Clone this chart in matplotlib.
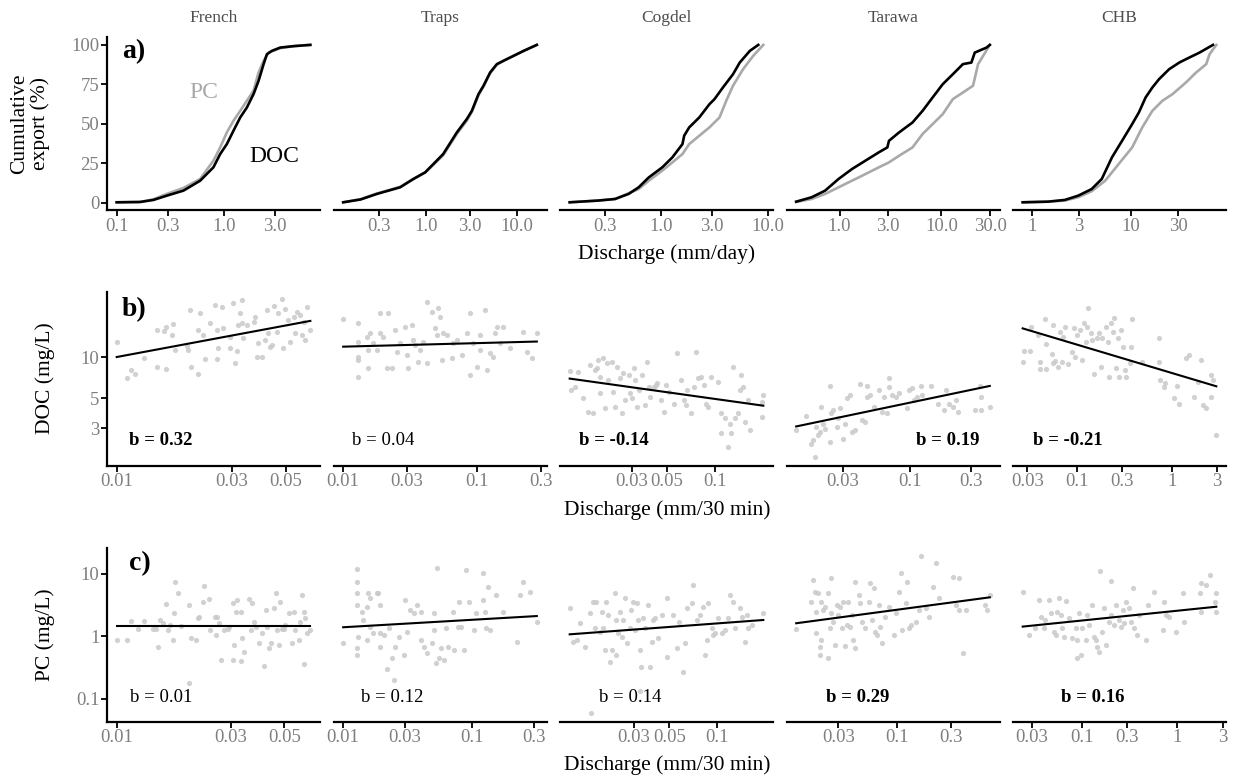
import numpy as np
import matplotlib
matplotlib.use("Agg")
import matplotlib.pyplot as plt
from matplotlib.ticker import FixedLocator, FixedFormatter, NullLocator

plt.rcParams['font.family'] = ['Liberation Serif', 'DejaVu Serif']

# ---------------- data ----------------
sites = ["French", "Traps", "Cogdel", "Tarawa", "CHB"]

# a) cumulative export curves: (log10 discharge mm/day, cumulative %)
french_cum_doc = [(-1.003, 0.2), (-0.785, 0.4), (-0.660, 1.7), (-0.536, 4.4), (-0.380, 7.6), (-0.224, 13.9),
                  (-0.100, 22.4), (-0.037, 30.8), (0.025, 37.1), (0.087, 45.6), (0.150, 54.0), (0.212, 60.3),
                  (0.274, 68.8), (0.321, 77.2), (0.368, 87.8), (0.399, 94.1), (0.445, 96.2), (0.523, 98.3),
                  (0.648, 99.2), (0.804, 100.0)]
french_cum_pc = [(-1.003, 0.2), (-0.785, 0.4), (-0.660, 2.1), (-0.536, 5.5), (-0.380, 9.3), (-0.224, 15.0),
                 (-0.100, 26.6), (-0.037, 35.0), (0.025, 44.5), (0.087, 51.9), (0.150, 58.2), (0.212, 64.6),
                 (0.274, 70.9), (0.321, 82.5), (0.368, 89.9), (0.414, 95.1), (0.523, 97.9), (0.648, 99.2),
                 (0.804, 100.0)]
traps_cum_doc = [(-0.912, 0.2), (-0.720, 2.0), (-0.542, 5.5), (-0.286, 9.7), (-0.139, 15.0), (-0.011, 19.2),
                 (0.080, 24.5), (0.187, 30.8), (0.337, 44.5), (0.447, 53.0), (0.502, 58.2), (0.575, 68.8),
                 (0.630, 74.1), (0.703, 82.5), (0.777, 87.8), (0.870, 90.5), (0.960, 93.0), (1.070, 96.2),
                 (1.216, 100.0)]
traps_cum_pc = [(-0.912, 0.2), (-0.720, 2.2), (-0.542, 5.8), (-0.286, 10.0), (-0.139, 15.2), (-0.011, 19.0),
                (0.080, 24.0), (0.187, 30.0), (0.337, 43.5), (0.447, 52.0), (0.502, 57.5), (0.575, 68.0),
                (0.630, 73.5), (0.703, 82.0), (0.777, 87.5), (0.870, 90.5), (0.960, 93.2), (1.070, 96.0),
                (1.216, 100.0)]
cogdel_cum_doc = [(-0.852, 0.2), (-0.585, 1.3), (-0.428, 2.3), (-0.302, 5.5), (-0.208, 9.7), (-0.113, 16.0),
                  (0.013, 22.4), (0.107, 28.7), (0.201, 37.1), (0.217, 42.4), (0.264, 47.7), (0.358, 54.0),
                  (0.453, 62.4), (0.500, 65.6), (0.579, 73.0), (0.673, 81.4), (0.736, 88.8), (0.830, 96.2),
                  (0.909, 100.0)]
cogdel_cum_pc = [(-0.852, 0.2), (-0.585, 1.3), (-0.428, 2.3), (-0.302, 5.9), (-0.208, 8.6), (-0.113, 13.9),
                 (0.013, 20.3), (0.107, 25.5), (0.201, 30.8), (0.264, 37.1), (0.358, 42.4), (0.453, 47.7),
                 (0.547, 54.0), (0.610, 64.6), (0.673, 74.1), (0.767, 84.6), (0.861, 93.0), (0.956, 100.0)]
tarawa_cum_doc = [(-0.426, 0.6), (-0.274, 3.4), (-0.142, 7.6), (-0.010, 15.0), (0.122, 21.3), (0.254, 26.6),
                  (0.386, 31.9), (0.469, 35.0), (0.485, 39.2), (0.584, 44.5), (0.716, 50.8), (0.815, 58.2),
                  (0.914, 66.7), (1.013, 75.1), (1.112, 81.4), (1.211, 87.8), (1.294, 88.8), (1.327, 95.1),
                  (1.443, 98.3), (1.475, 100.0)]
tarawa_cum_pc = [(-0.426, 0.4), (-0.274, 2.3), (-0.142, 5.5), (-0.010, 9.7), (0.122, 13.9), (0.254, 18.1),
                 (0.386, 22.4), (0.485, 25.5), (0.584, 29.7), (0.716, 35.0), (0.815, 43.5), (0.914, 49.8),
                 (1.013, 56.1), (1.112, 65.6), (1.211, 69.8), (1.310, 74.1), (1.360, 87.8), (1.475, 100.0)]
chb_cum_doc = [(-0.092, 0.2), (0.163, 0.6), (0.334, 1.7), (0.469, 4.4), (0.605, 8.6), (0.707, 15.0),
               (0.810, 28.7), (0.912, 39.2), (1.014, 49.8), (1.082, 57.2), (1.150, 66.7), (1.218, 73.0),
               (1.286, 78.3), (1.388, 84.6), (1.490, 88.8), (1.592, 92.0), (1.694, 95.1), (1.830, 100.0)]
chb_cum_pc = [(-0.092, 0.2), (0.163, 0.6), (0.334, 1.3), (0.469, 3.4), (0.605, 7.2), (0.742, 13.9),
              (0.878, 24.5), (1.014, 35.0), (1.116, 47.7), (1.218, 58.2), (1.320, 64.6), (1.422, 68.8),
              (1.558, 76.2), (1.660, 82.5), (1.762, 87.8), (1.796, 94.1), (1.864, 100.0)]

# b) DOC samples: (log10 discharge mm/30 min, log10 DOC mg/L)
french_doc = [(-2.000, 1.108), (-1.942, 0.904), (-1.956, 0.843), (-1.925, 0.875), (-1.887, 0.995), (-1.835, 1.199),
              (-1.835, 0.924), (-1.804, 1.194), (-1.794, 0.909), (-1.797, 1.223), (-1.766, 1.240), (-1.773, 1.162),
              (-1.759, 1.051), (-1.704, 1.051), (-1.697, 1.346), (-1.711, 1.081), (-1.694, 0.924), (-1.663, 1.199),
              (-1.656, 1.321), (-1.665, 0.873), (-1.642, 1.162), (-1.635, 0.983), (-1.614, 1.248), (-1.593, 1.382),
              (-1.586, 1.199), (-1.586, 0.983), (-1.580, 1.064), (-1.566, 1.370), (-1.559, 1.211), (-1.531, 1.064),
              (-1.531, 1.150), (-1.517, 1.395), (-1.510, 0.953), (-1.503, 1.047), (-1.497, 1.235), (-1.490, 1.321),
              (-1.483, 1.419), (-1.483, 1.248), (-1.476, 1.137), (-1.462, 1.235), (-1.434, 1.260), (-1.427, 1.297),
              (-1.420, 1.002), (-1.414, 1.100), (-1.400, 1.002), (-1.386, 1.125), (-1.379, 1.346), (-1.372, 1.174),
              (-1.365, 1.076), (-1.358, 1.088), (-1.349, 1.375), (-1.337, 1.186), (-1.331, 1.321), (-1.317, 1.424),
              (-1.310, 1.064), (-1.303, 1.350), (-1.293, 1.272), (-1.282, 1.113), (-1.268, 1.297), (-1.261, 1.174),
              (-1.254, 1.333), (-1.241, 1.309), (-1.234, 1.162), (-1.227, 1.260), (-1.220, 1.125), (-1.213, 1.370),
              (-1.199, 1.199)]
traps_doc = [(-2.000, 1.277), (-1.886, 1.248), (-1.886, 1.113), (-1.886, 1.002), (-1.886, 0.978), (-1.886, 0.855),
             (-1.823, 1.150), (-1.811, 1.051), (-1.811, 0.917), (-1.799, 1.174), (-1.774, 1.100), (-1.749, 1.051),
             (-1.724, 1.321), (-1.724, 1.174), (-1.699, 1.150), (-1.674, 0.917), (-1.662, 1.321), (-1.637, 0.917),
             (-1.612, 1.199), (-1.599, 1.039), (-1.575, 1.100), (-1.537, 1.223), (-1.525, 1.015), (-1.513, 0.917),
             (-1.487, 1.235), (-1.475, 1.125), (-1.463, 1.088), (-1.438, 0.966), (-1.425, 1.051), (-1.401, 1.113),
             (-1.375, 0.953), (-1.375, 1.407), (-1.338, 1.333), (-1.313, 1.211), (-1.301, 1.162), (-1.289, 1.358),
             (-1.276, 1.297), (-1.263, 0.978), (-1.251, 1.174), (-1.226, 1.162), (-1.189, 0.990), (-1.177, 1.100),
             (-1.151, 1.125), (-1.114, 1.015), (-1.077, 1.174), (-1.052, 1.321), (-1.052, 0.868), (-1.028, 1.100),
             (-1.002, 0.929), (-0.978, 1.162), (-0.978, 1.051), (-0.940, 1.346), (-0.928, 0.904), (-0.903, 1.027),
             (-0.878, 1.002), (-0.866, 1.174), (-0.854, 1.223), (-0.828, 1.100), (-0.804, 1.223), (-0.754, 1.064),
             (-0.654, 1.186), (-0.629, 1.039), (-0.592, 0.990), (-0.554, 1.179)]
cogdel_doc = [(-1.913, 0.900), (-1.903, 0.757), (-1.882, 0.782), (-1.861, 0.892), (-1.829, 0.696), (-1.797, 0.598),
              (-1.786, 0.941), (-1.765, 0.586), (-1.754, 0.904), (-1.744, 0.917), (-1.733, 0.978), (-1.722, 0.855),
              (-1.722, 0.733), (-1.701, 0.990), (-1.691, 0.623), (-1.680, 0.953), (-1.670, 0.831), (-1.648, 0.966),
              (-1.638, 0.745), (-1.627, 0.635), (-1.617, 0.929), (-1.595, 0.843), (-1.585, 0.586), (-1.574, 0.880),
              (-1.563, 0.684), (-1.542, 0.868), (-1.531, 0.733), (-1.521, 0.696), (-1.510, 0.917), (-1.499, 0.831),
              (-1.489, 0.635), (-1.478, 0.757), (-1.457, 0.868), (-1.436, 0.647), (-1.426, 0.966), (-1.415, 0.782),
              (-1.404, 0.708), (-1.383, 0.782), (-1.372, 0.794), (-1.362, 0.806), (-1.340, 0.684), (-1.319, 0.598),
              (-1.308, 0.794), (-1.287, 0.745), (-1.255, 0.659), (-1.234, 1.027), (-1.213, 0.831), (-1.192, 0.684),
              (-1.181, 0.647), (-1.171, 0.757), (-1.149, 0.586), (-1.128, 0.782), (-1.117, 1.039), (-1.107, 0.843),
              (-1.085, 0.855), (-1.064, 0.794), (-1.054, 0.659), (-1.043, 0.635), (-1.022, 0.855), (-0.980, 0.819),
              (-0.958, 0.586), (-0.958, 0.439), (-0.937, 0.549), (-0.916, 0.341), (-0.905, 0.512), (-0.895, 0.439),
              (-0.884, 0.924), (-0.873, 0.549), (-0.852, 0.586), (-0.842, 0.757), (-0.831, 0.868), (-0.821, 0.782),
              (-0.810, 0.525), (-0.789, 0.684), (-0.778, 0.463), (-0.703, 0.561), (-0.703, 0.672), (-0.693, 0.721)]
tarawa_doc = [(-1.885, 0.463), (-1.806, 0.566), (-1.767, 0.365), (-1.754, 0.390), (-1.741, 0.267), (-1.728, 0.488),
              (-1.714, 0.426), (-1.702, 0.451), (-1.688, 0.635), (-1.675, 0.512), (-1.662, 0.475), (-1.623, 0.787),
              (-1.623, 0.377), (-1.610, 0.586), (-1.596, 0.610), (-1.570, 0.488), (-1.557, 0.549), (-1.544, 0.623),
              (-1.518, 0.402), (-1.505, 0.512), (-1.492, 0.696), (-1.466, 0.721), (-1.452, 0.451), (-1.426, 0.463),
              (-1.387, 0.801), (-1.373, 0.537), (-1.347, 0.525), (-1.334, 0.787), (-1.334, 0.708), (-1.308, 0.721),
              (-1.281, 0.635), (-1.242, 0.757), (-1.216, 0.598), (-1.202, 0.708), (-1.176, 0.591), (-1.163, 0.843),
              (-1.163, 0.782), (-1.137, 0.721), (-1.111, 0.708), (-1.084, 0.733), (-1.019, 0.623), (-1.006, 0.757),
              (-0.980, 0.770), (-0.966, 0.684), (-0.940, 0.708), (-0.914, 0.787), (-0.901, 0.721), (-0.836, 0.787),
              (-0.783, 0.659), (-0.730, 0.615), (-0.717, 0.757), (-0.691, 0.659), (-0.665, 0.635), (-0.638, 0.684),
              (-0.625, 0.598), (-0.494, 0.610), (-0.454, 0.787), (-0.442, 0.610), (-0.442, 0.708), (-0.376, 0.635)]
chb_doc = [(-1.573, 0.966), (-1.555, 1.047), (-1.501, 1.047), (-1.483, 1.223), (-1.412, 1.162), (-1.394, 0.966),
           (-1.394, 0.909), (-1.340, 1.277), (-1.322, 1.096), (-1.322, 0.909), (-1.268, 1.022), (-1.251, 1.235),
           (-1.251, 0.953), (-1.233, 0.973), (-1.197, 0.929), (-1.179, 1.186), (-1.161, 0.966), (-1.143, 1.150),
           (-1.125, 1.223), (-1.090, 0.949), (-1.053, 1.039), (-1.036, 1.211), (-1.018, 1.002), (-1.000, 1.162),
           (-0.964, 1.199), (-0.946, 0.978), (-0.928, 1.248), (-0.910, 1.113), (-0.892, 1.223), (-0.881, 1.358),
           (-0.856, 1.174), (-0.838, 1.125), (-0.821, 0.875), (-0.784, 1.137), (-0.767, 1.179), (-0.749, 0.929),
           (-0.731, 1.137), (-0.695, 1.223), (-0.677, 1.113), (-0.659, 0.850), (-0.641, 1.248), (-0.623, 1.186),
           (-0.606, 1.284), (-0.588, 0.917), (-0.569, 1.137), (-0.552, 0.850), (-0.534, 1.199), (-0.515, 1.076),
           (-0.498, 0.904), (-0.480, 0.850), (-0.444, 0.953), (-0.426, 1.076), (-0.415, 1.277), (-0.319, 0.966),
           (-0.139, 1.137), (-0.139, 0.966), (-0.122, 0.831), (-0.085, 0.782), (-0.068, 0.806), (0.022, 0.696),
           (0.058, 0.787), (0.076, 0.659), (0.147, 0.990), (0.183, 1.015), (0.237, 0.708), (0.273, 0.819),
           (0.308, 0.978), (0.326, 0.647), (0.362, 0.623), (0.416, 0.708), (0.416, 0.868), (0.434, 0.831),
           (0.470, 0.426)]

# c) PC samples: (log10 discharge mm/30 min, log10 PC mg/L)
french_pc = [(-2.001, -0.059), (-1.956, -0.059), (-1.942, 0.246), (-1.911, 0.112), (-1.887, 0.246), (-1.849, 0.112),
             (-1.835, 0.112), (-1.828, -0.166), (-1.822, 0.262), (-1.808, 0.209), (-1.797, 0.513), (-1.787, 0.102),
             (-1.780, 0.182), (-1.766, -0.059), (-1.763, 0.369), (-1.759, 0.877), (-1.746, 0.690), (-1.732, 0.166),
             (-1.700, 0.503), (-1.697, -0.754), (-1.690, -0.032), (-1.669, -0.059), (-1.663, 0.289), (-1.656, 0.316),
             (-1.642, 0.556), (-1.635, 0.807), (-1.614, 0.594), (-1.611, 0.102), (-1.589, 0.305), (-1.586, 0.021),
             (-1.580, 0.316), (-1.573, 0.209), (-1.566, -0.380), (-1.552, 0.102), (-1.538, 0.112), (-1.531, 0.144),
             (-1.517, 0.529), (-1.513, -0.380), (-1.510, -0.139), (-1.503, 0.396), (-1.497, 0.583), (-1.483, 0.396),
             (-1.483, -0.390), (-1.476, -0.032), (-1.469, -0.251), (-1.448, 0.594), (-1.441, 0.102), (-1.434, 0.529),
             (-1.427, 0.235), (-1.420, 0.155), (-1.407, -0.112), (-1.393, 0.048), (-1.386, -0.476), (-1.379, 0.422),
             (-1.372, 0.144), (-1.365, -0.193), (-1.358, -0.112), (-1.344, 0.449), (-1.337, 0.690), (-1.331, 0.102),
             (-1.324, -0.139), (-1.317, 0.556), (-1.310, 0.112), (-1.303, 0.112), (-1.296, 0.182), (-1.282, 0.369),
             (-1.268, -0.112), (-1.261, 0.396), (-1.254, 0.102), (-1.241, -0.059), (-1.234, 0.235), (-1.227, 0.663),
             (-1.220, 0.396), (-1.220, -0.444), (-1.213, 0.289), (-1.206, 0.048), (-1.192, 0.102)]
traps_pc = [(-1.997, -0.112), (-1.893, 1.075), (-1.893, 0.877), (-1.888, 0.690), (-1.888, 0.503), (-1.888, -0.193),
            (-1.888, -0.299), (-1.880, -0.005), (-1.854, 0.396), (-1.841, 0.262), (-1.815, 0.476), (-1.815, -0.059),
            (-1.802, 0.690), (-1.789, 0.610), (-1.789, 0.155), (-1.763, 0.048), (-1.737, 0.690), (-1.724, 0.690),
            (-1.711, 0.503), (-1.711, 0.048), (-1.711, -0.166), (-1.685, 0.021), (-1.659, -0.529), (-1.646, 0.128),
            (-1.620, -0.353), (-1.607, -0.701), (-1.594, -0.166), (-1.568, -0.005), (-1.529, -0.299), (-1.516, 0.583),
            (-1.502, 0.075), (-1.477, 0.422), (-1.451, 0.369), (-1.424, 0.503), (-1.398, 0.396), (-1.398, -0.059),
            (-1.373, -0.166), (-1.346, -0.273), (-1.307, -0.112), (-1.295, 0.369), (-1.295, 0.102), (-1.268, 1.091),
            (-1.281, -0.433), (-1.255, -0.353), (-1.242, -0.193), (-1.216, -0.380), (-1.203, 0.128), (-1.190, -0.166),
            (-1.151, 0.396), (-1.138, -0.219), (-1.112, 0.155), (-1.099, 0.556), (-1.086, 0.155), (-1.060, -0.219),
            (-1.047, 1.064), (-1.021, 0.556), (-0.982, 0.102), (-0.969, 0.369), (-0.916, 1.011), (-0.916, 0.583),
            (-0.904, 0.396), (-0.891, 0.128), (-0.878, 0.797), (-0.865, 0.102), (-0.812, 0.663), (-0.760, 0.396),
            (-0.656, -0.086), (-0.630, 0.663), (-0.604, 0.877), (-0.552, 0.717), (-0.500, 0.235)]
cogdel_pc = [(-1.926, 0.449), (-1.905, -0.086), (-1.883, -0.059), (-1.863, 0.209), (-1.831, -0.166), (-1.800, 0.369),
             (-1.789, -1.235), (-1.779, 0.556), (-1.768, 0.128), (-1.758, 0.556), (-1.737, 0.075), (-1.726, 0.396),
             (-1.716, 0.128), (-1.705, -0.219), (-1.695, 0.556), (-1.685, 0.342), (-1.674, -0.406), (-1.663, -0.219),
             (-1.642, 0.690), (-1.636, 0.262), (-1.632, -0.299), (-1.621, 0.048), (-1.611, 0.396), (-1.600, -0.005),
             (-1.590, 0.262), (-1.580, 0.610), (-1.569, -0.112), (-1.548, 0.128), (-1.538, 0.422), (-1.527, 0.556),
             (-1.517, 0.102), (-1.506, 0.529), (-1.496, 0.262), (-1.485, -0.219), (-1.485, -0.872), (-1.475, -0.487),
             (-1.464, 0.289), (-1.454, 0.128), (-1.433, 0.503), (-1.422, -0.487), (-1.412, -0.086), (-1.402, 0.262),
             (-1.391, 0.289), (-1.370, -0.032), (-1.349, 0.342), (-1.317, -0.326), (-1.317, 0.610), (-1.276, 0.342),
             (-1.254, -0.193), (-1.238, 0.235), (-1.213, -0.567), (-1.202, -0.112), (-1.192, 0.449), (-1.160, 0.529),
             (-1.150, 0.824), (-1.129, 0.262), (-1.108, 0.342), (-1.087, 0.476), (-1.076, -0.299), (-1.066, -0.059),
             (-1.056, 0.529), (-1.034, 0.128), (-1.024, 0.021), (-1.014, 0.048), (-0.993, 0.289), (-0.971, 0.048),
             (-0.951, 0.102), (-0.930, 0.289), (-0.919, 0.663), (-0.898, 0.556), (-0.888, 0.128), (-0.856, 0.449),
             (-0.846, 0.316), (-0.825, -0.086), (-0.814, 0.342), (-0.804, 0.128), (-0.783, 0.182), (-0.710, 0.369)]
tarawa_pc = [(-1.895, 0.112), (-1.746, 0.904), (-1.761, 0.556), (-1.731, 0.717), (-1.717, 0.396), (-1.717, 0.048),
             (-1.702, 0.690), (-1.686, -0.166), (-1.686, -0.299), (-1.672, 0.556), (-1.672, -0.059), (-1.657, 0.422),
             (-1.642, 0.476), (-1.612, 0.690), (-1.612, -0.353), (-1.597, 0.128), (-1.583, 0.930), (-1.583, 0.369),
             (-1.568, 0.235), (-1.552, -0.139), (-1.538, 0.503), (-1.523, 0.342), (-1.508, 0.476), (-1.493, 0.128),
             (-1.478, 0.556), (-1.463, -0.155), (-1.449, 0.182), (-1.434, 0.556), (-1.419, 0.155), (-1.404, 0.342),
             (-1.389, -0.059), (-1.374, 0.877), (-1.374, -0.193), (-1.344, 0.663), (-1.329, 0.529), (-1.315, 0.235),
             (-1.285, 0.128), (-1.255, 0.556), (-1.240, 0.850), (-1.226, 0.262), (-1.211, 0.770), (-1.195, 0.075),
             (-1.181, 0.021), (-1.166, 0.503), (-1.151, 0.155), (-1.136, -0.112), (-1.106, 0.316), (-1.077, 0.476),
             (-1.032, 0.021), (-1.017, 0.369), (-0.987, 0.717), (-0.972, 1.011), (-0.958, 0.102), (-0.927, 0.529),
             (-0.913, 0.877), (-0.898, 0.128), (-0.883, 0.182), (-0.838, 0.235), (-0.809, 0.422), (-0.794, 1.289),
             (-0.749, 0.449), (-0.719, 0.316), (-0.690, 0.797), (-0.660, 1.182), (-0.630, 0.610), (-0.511, 0.947),
             (-0.481, 0.503), (-0.452, 0.930), (-0.452, 0.422), (-0.422, -0.273), (-0.392, 0.422), (-0.228, 0.503),
             (-0.213, 0.422), (-0.184, 0.663)]
chb_pc = [(-1.618, 0.706), (-1.555, 0.021), (-1.484, 0.128), (-1.449, 0.583), (-1.431, 0.316), (-1.397, 0.128),
          (-1.379, 0.262), (-1.344, 0.583), (-1.326, 0.369), (-1.291, 0.075), (-1.274, 0.021), (-1.257, 0.396),
          (-1.239, 0.610), (-1.221, 0.342), (-1.204, 0.128), (-1.186, -0.005), (-1.168, 0.572), (-1.134, 0.289),
          (-1.099, -0.032), (-1.063, 0.128), (-1.046, -0.059), (-1.046, -0.353), (-1.028, 0.369), (-1.010, -0.299),
          (-0.994, 0.128), (-0.958, -0.059), (-0.941, 0.342), (-0.923, 0.182), (-0.888, 0.503), (-0.870, -0.005),
          (-0.853, -0.059), (-0.836, -0.166), (-0.818, -0.246), (-0.807, 1.053), (-0.783, 0.075), (-0.765, 0.449),
          (-0.747, -0.139), (-0.712, 0.235), (-0.695, 0.342), (-0.688, 0.888), (-0.660, 0.182), (-0.642, 0.503),
          (-0.607, 0.262), (-0.589, 0.155), (-0.572, 0.422), (-0.555, 0.209), (-0.537, 0.556), (-0.502, 0.449),
          (-0.484, 0.235), (-0.467, 0.770), (-0.449, 0.128), (-0.415, 0.021), (-0.397, 0.342), (-0.326, -0.059),
          (-0.309, 0.503), (-0.239, 0.717), (-0.151, 0.102), (-0.133, 0.556), (-0.116, 0.342), (-0.081, 0.316),
          (-0.010, 0.075), (0.059, 0.690), (0.077, 0.235), (0.235, 0.690), (0.253, 0.850), (0.253, 0.396),
          (0.305, 0.824), (0.340, 0.984), (0.393, 0.556), (0.411, 0.690), (0.411, 0.396)]

# log-log fits (log10 C = intercept + slope * log10 Q) and reported exponents
doc_fit_intercept = [1.662, 1.128, 0.530, 0.862, 0.883]
doc_fit_slope = [0.331, 0.026, -0.163, 0.197, -0.208]
pc_fit_intercept = [0.171, 0.384, 0.395, 0.669, 0.409]
pc_fit_slope = [0.0, 0.120, 0.189, 0.243, 0.157]
doc_b_labels = ["b = 0.32", "b = 0.04", "b = -0.14", "b = 0.19", "b = -0.21"]
doc_b_bold = [True, False, True, True, True]
pc_b_labels = ["b = 0.01", "b = 0.12", "b = 0.14", "b = 0.29", "b = 0.16"]
pc_b_bold = [False, False, False, True, True]

# tick sets
cum_xticks = [[0.1, 0.3, 1.0, 3.0], [0.3, 1.0, 3.0, 10.0], [0.3, 1.0, 3.0, 10.0],
              [0.3, 1.0, 3.0, 10.0, 30.0], [1, 3, 10, 30]]
cum_xlabels = [["0.1", "0.3", "1.0", "3.0"], ["0.3", "1.0", "3.0", "10.0"], ["0.3", "1.0", "3.0", "10.0"],
               ["0.3", "1.0", "3.0", "10.0", "30.0"], ["1", "3", "10", "30"]]
q_xticks = [[0.01, 0.03, 0.05], [0.01, 0.03, 0.1, 0.3], [0.03, 0.05, 0.1], [0.03, 0.1, 0.3],
            [0.03, 0.1, 0.3, 1, 3]]
q_xlabels = [["0.01", "0.03", "0.05"], ["0.01", "0.03", "0.1", "0.3"], ["0.03", "0.05", "0.1"],
             ["0.03", "0.1", "0.3"], ["0.03", "0.1", "0.3", "1", "3"]]

cum_doc_all = [french_cum_doc, traps_cum_doc, cogdel_cum_doc, tarawa_cum_doc, chb_cum_doc]
cum_pc_all = [french_cum_pc, traps_cum_pc, cogdel_cum_pc, tarawa_cum_pc, chb_cum_pc]
doc_all = [french_doc, traps_doc, cogdel_doc, tarawa_doc, chb_doc]
pc_all = [french_pc, traps_pc, cogdel_pc, tarawa_pc, chb_pc]

# ---------------- style ----------------
TICK_GREY = '#7f7f7f'
PC_GREY = '#a9a9a9'
PT_GREY = '#c9c9c9'
W, H = 1233, 776
lefts = [107, 333.5, 560, 786.5, 1013]
pw = 213
row_tops = [37, 292, 548]
ph = 173.5

fig = plt.figure(figsize=(W / 100, H / 100), dpi=100)


def make_ax(row, col):
    return fig.add_axes([lefts[col] / W, 1 - (row_tops[row] + ph) / H, pw / W, ph / H])


def style(ax, col):
    for s in ('top', 'right'):
        ax.spines[s].set_visible(False)
    for s in ('left', 'bottom'):
        ax.spines[s].set_linewidth(1.6)
    ax.tick_params(axis='both', which='major', length=4, width=1.3, color='black',
                   labelcolor=TICK_GREY, labelsize=13.5, pad=1.5)
    ax.tick_params(axis='both', which='minor', length=0)
    if col > 0:
        ax.spines['left'].set_visible(False)
        ax.tick_params(axis='y', which='both', left=False, labelleft=False)


def set_log_xlim(ax, lq):
    lo, hi = min(lq), max(lq)
    r = hi - lo
    ax.set_xlim(10 ** (lo - 0.05 * r), 10 ** (hi + 0.05 * r))


def set_xticks(ax, ticks, labels):
    ax.xaxis.set_major_locator(FixedLocator(ticks))
    ax.xaxis.set_major_formatter(FixedFormatter(labels))
    ax.xaxis.set_minor_locator(NullLocator())


# ---------------- row a ----------------
for i, site in enumerate(sites):
    ax = make_ax(0, i)
    d = np.array(cum_doc_all[i]).T
    p = np.array(cum_pc_all[i]).T
    ax.set_xscale('log')
    ax.plot(10 ** p[0], p[1], color=PC_GREY, lw=1.9, zorder=2, solid_joinstyle='round')
    ax.plot(10 ** d[0], d[1], color='black', lw=1.9, zorder=3, solid_joinstyle='round')
    set_log_xlim(ax, np.concatenate([d[0], p[0]]))
    ax.set_ylim(-5, 105)
    set_xticks(ax, cum_xticks[i], cum_xlabels[i])
    ax.set_yticks([0, 25, 50, 75, 100])
    style(ax, i)
    ax.text(0.5, 1.11, site, transform=ax.transAxes, ha='center', va='center',
            fontsize=12.5, color='#4d4d4d')
    if i == 0:
        ax.text(0.07, 0.913, "a)", transform=ax.transAxes, ha='left', va='center',
                fontsize=20, fontweight='bold')
        ax.text(0.65, 69.6, "PC", ha='center', va='center', fontsize=17, color=PC_GREY)
        ax.text(2.93, 29.0, "DOC", ha='center', va='center', fontsize=17, color='black')

# ---------------- rows b, c ----------------
row_specs = [
    (1, doc_all, doc_fit_intercept, doc_fit_slope, doc_b_labels, doc_b_bold,
     [0.254, 0.235, 0.255, 0.755, 0.257], 0.145, (1.6, 30), [3, 5, 10], ["3", "5", "10"], "b)", 0.07, 0.90),
    (2, pc_all, pc_fit_intercept, pc_fit_slope, pc_b_labels, pc_b_bold,
     [0.254, 0.277, 0.33, 0.335, 0.374], 0.138, (0.043, 26), [0.1, 1, 10], ["0.1", "1", "10"], "c)", 0.103, 0.908),
]
for (row, data_all, icpt, slope, blabs, bbold, bx, by, ylim, yt, ytl, tag, tx, ty) in row_specs:
    for i in range(5):
        ax = make_ax(row, i)
        a = np.array(data_all[i]).T
        ax.set_xscale('log')
        ax.set_yscale('log')
        ax.scatter(10 ** a[0], 10 ** a[1], s=14, color=PT_GREY, alpha=0.85, linewidths=0, zorder=2)
        lx = np.array([a[0].min(), a[0].max()])
        ly = icpt[i] + slope[i] * lx
        ax.plot(10 ** lx, 10 ** ly, color='black', lw=1.5, zorder=3)
        set_log_xlim(ax, a[0])
        ax.set_ylim(*ylim)
        set_xticks(ax, q_xticks[i], q_xlabels[i])
        ax.yaxis.set_major_locator(FixedLocator(yt))
        ax.yaxis.set_major_formatter(FixedFormatter(ytl))
        ax.yaxis.set_minor_locator(NullLocator())
        style(ax, i)
        ax.text(bx[i], by, blabs[i], transform=ax.transAxes, ha='center', va='center',
                fontsize=13.5, fontweight='bold' if bbold[i] else 'normal')
        if i == 0:
            ax.text(tx, ty, tag, transform=ax.transAxes, ha='left', va='center',
                    fontsize=20, fontweight='bold')

# ---------------- axis titles ----------------
fig.text(30 / W, 1 - 123.5 / H, "Cumulative\nexport (%)", rotation=90, ha='center', va='center',
         fontsize=15.5, linespacing=1.05)
fig.text(45 / W, 1 - 378.5 / H, "DOC (mg/L)", rotation=90, ha='center', va='center', fontsize=15.5)
fig.text(45 / W, 1 - 635 / H, "PC (mg/L)", rotation=90, ha='center', va='center', fontsize=15.5)
fig.text(667 / W, 1 - 254 / H, "Discharge (mm/day)", ha='center', va='center', fontsize=15.5)
fig.text(667 / W, 1 - 510 / H, "Discharge (mm/30 min)", ha='center', va='center', fontsize=15.5)
fig.text(667 / W, 1 - 765 / H, "Discharge (mm/30 min)", ha='center', va='center', fontsize=15.5)

fig.savefig("out.png", dpi=100, facecolor='white')
